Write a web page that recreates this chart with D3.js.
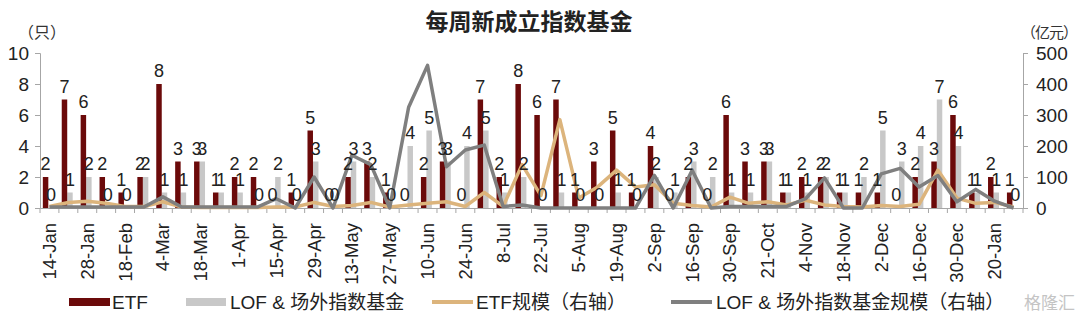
<!DOCTYPE html>
<html>
<head>
<meta charset="utf-8">
<script src="https://cdn.jsdelivr.net/npm/d3@7"></script>
<style>
  body { margin: 0; background: #fff; }
  text { font-family: "Liberation Sans", Arial, "Noto Sans CJK SC", sans-serif; }
  .cjk { font-family: "Liberation Sans", "Noto Sans CJK SC", sans-serif; }
</style>
</head>
<body>
<div id="chart"></div>
<script>
// weekly categories (labels shown every other week)
var weeks = ['14-Jan','21-Jan','28-Jan','11-Feb','18-Feb','25-Feb','4-Mar','11-Mar','18-Mar','25-Mar',
  '1-Apr','8-Apr','15-Apr','22-Apr','29-Apr','6-May','13-May','20-May','27-May','3-Jun',
  '10-Jun','17-Jun','24-Jun','1-Jul','8-Jul','15-Jul','22-Jul','29-Jul','5-Aug','12-Aug',
  '19-Aug','26-Aug','2-Sep','9-Sep','16-Sep','23-Sep','30-Sep','14-Oct','21-Oct','28-Oct',
  '4-Nov','11-Nov','18-Nov','25-Nov','2-Dec','9-Dec','16-Dec','23-Dec','30-Dec','13-Jan',
  '20-Jan','27-Jan'];

var etfCount = [2,7,6,2,1,2,8,3,3,1,2,2,0,1,5,0,2,3,1,0,2,3,0,7,2,8,6,7,1,3,5,1,4,0,2,0,6,3,3,1,2,2,1,1,1,0,2,3,6,1,2,1];
var lofCount = [0,1,2,0,0,2,1,1,3,1,1,0,2,0,3,0,3,2,0,4,5,3,4,5,1,2,0,1,0,0,1,0,2,1,3,2,1,1,3,1,1,2,1,2,5,3,4,7,4,1,1,0];

// scale, 亿元 (right axis)
var etfSize = [5,18,22,15,5,5,20,3,2,2,2,2,3,3,18,5,8,18,3,10,15,20,5,50,5,140,40,285,32,68,122,68,75,15,8,3,35,15,20,10,25,10,5,3,8,5,12,122,32,15,18,3];
var lofSize = [3,3,3,3,3,3,36,3,3,3,3,3,30,0,100,0,170,140,0,325,460,133,187,203,5,10,0,0,0,0,0,0,105,0,122,0,5,5,5,5,30,97,0,0,110,128,68,105,20,60,22,0];

var leftTicks = [0,2,4,6,8,10];
var rightTicks = [0,100,200,300,400,500];

var width = 1080,
    height = 318;

var red = '#6b0a0a',
    lightGray = '#c8c8c8',
    tan = '#dcb47c',
    darkGray = '#7f7f7f',
    axisColor = '#a6a6a6';

var svg = d3.select('#chart').append('svg')
    .attr('width', width)
    .attr('height', height);

var x = d3.scaleBand()
    .domain(weeks)
    .range([40, 1023])
    .padding(0);

var yL = d3.scaleLinear().domain([0, 10]).range([208, 53]);
var yR = d3.scaleLinear().domain([0, 500]).range([208, 53]);

var bw = x.bandwidth();

/* title */
svg.append('text')
    .attr('class', 'cjk')
    .attr('x', 529)
    .attr('y', 30)
    .attr('text-anchor', 'middle')
    .attr('font-size', 23)
    .attr('font-weight', 'bold')
    .attr('fill', '#222')
    .text('每周新成立指数基金');

svg.append('text')
    .attr('class', 'cjk')
    .attr('x', 18).attr('y', 38)
    .attr('font-size', 16).attr('fill', '#333')
    .text('（只）');

svg.append('text')
    .attr('class', 'cjk')
    .attr('x', 1077).attr('y', 38)
    .attr('text-anchor', 'end')
    .attr('font-size', 15).attr('fill', '#333')
    .attr('letter-spacing', -1)
    .text('（亿元）');

/* left axis */
var leftAxis = svg.append('g')
    .attr('transform', 'translate(40,0)')
    .call(d3.axisLeft(yL).tickValues(leftTicks).tickSize(5).tickPadding(6));

/* right axis */
var rightAxis = svg.append('g')
    .attr('transform', 'translate(1023,0)')
    .call(d3.axisRight(yR).tickValues(rightTicks).tickSize(5).tickPadding(8));

[leftAxis, rightAxis].forEach(function (g) {
    g.select('.domain').attr('stroke', axisColor);
    g.selectAll('.tick line').attr('stroke', axisColor);
    g.selectAll('.tick text')
        .attr('font-size', 19)
        .attr('fill', '#222')
        .attr('font-family', '"Liberation Sans", Arial, sans-serif');
});

/* bottom axis: ticks between categories, labels every second week */
var bottomAxis = svg.append('g')
    .attr('transform', 'translate(0,208)')
    .call(d3.axisBottom(x).tickSize(0).tickPadding(0)
        .tickFormat(function (d, i) { return i % 2 === 0 ? d : ''; }));

bottomAxis.select('.domain').attr('stroke', axisColor);
bottomAxis.selectAll('.tick text')
    .attr('font-size', 18.5)
    .attr('fill', '#222')
    .attr('font-family', '"Liberation Sans", Arial, sans-serif')
    .attr('text-anchor', 'end')
    .attr('transform', 'rotate(-90)')
    .attr('x', -15)
    .attr('y', 0)
    .attr('dy', '0.35em');

bottomAxis.selectAll('.sep')
    .data(d3.range(weeks.length + 1))
    .enter().append('line')
    .attr('class', 'sep')
    .attr('x1', function (i) { return 40 + i * bw; })
    .attr('x2', function (i) { return 40 + i * bw; })
    .attr('y1', 0)
    .attr('y2', 5)
    .attr('stroke', axisColor);

/* bars */
var etfX = function (i) { return x(weeks[i]) + bw * 0.15; };
var lofX = function (i) { return x(weeks[i]) + bw * 0.44; };
var barW = bw * 0.29;

svg.append('g').selectAll('rect')
    .data(lofCount)
    .enter().append('rect')
    .attr('x', function (d, i) { return lofX(i); })
    .attr('y', function (d) { return yL(d); })
    .attr('width', barW)
    .attr('height', function (d) { return 208 - yL(d); })
    .attr('fill', lightGray);

svg.append('g').selectAll('rect')
    .data(etfCount)
    .enter().append('rect')
    .attr('x', function (d, i) { return etfX(i); })
    .attr('y', function (d) { return yL(d); })
    .attr('width', barW)
    .attr('height', function (d) { return 208 - yL(d); })
    .attr('fill', red);

/* lines on right axis */
var line = d3.line()
    .x(function (d, i) { return x(weeks[i]) + bw / 2; })
    .y(function (d) { return yR(d); });

svg.append('path')
    .datum(etfSize)
    .attr('d', line)
    .attr('fill', 'none')
    .attr('stroke', tan)
    .attr('stroke-width', 3.5)
    .attr('stroke-linejoin', 'round');

svg.append('path')
    .datum(lofSize)
    .attr('d', line)
    .attr('fill', 'none')
    .attr('stroke', darkGray)
    .attr('stroke-width', 3.5)
    .attr('stroke-linejoin', 'round');

/* data labels */
svg.append('g').selectAll('text')
    .data(etfCount)
    .enter().append('text')
    .attr('x', function (d, i) { return etfX(i) + barW / 2; })
    .attr('y', function (d) { return yL(d) - 7; })
    .attr('text-anchor', 'middle')
    .attr('font-size', 18)
    .attr('fill', '#222')
    .text(function (d) { return d; });

svg.append('g').selectAll('text')
    .data(lofCount)
    .enter().append('text')
    .attr('x', function (d, i) { return lofX(i) + barW / 2; })
    .attr('y', function (d) { return yL(d) - 7; })
    .attr('text-anchor', 'middle')
    .attr('font-size', 18)
    .attr('fill', '#222')
    .text(function (d) { return d; });

/* legend */
var legend = svg.append('g').attr('class', 'cjk');
var legY = 302;

legend.append('rect').attr('x', 69).attr('y', legY - 4).attr('width', 41).attr('height', 8).attr('fill', red);
legend.append('text').attr('x', 112).attr('y', legY + 7).attr('font-size', 19).attr('fill', '#222').text('ETF');

legend.append('rect').attr('x', 186).attr('y', legY - 4).attr('width', 40).attr('height', 8).attr('fill', lightGray);
legend.append('text').attr('x', 230).attr('y', legY + 7).attr('font-size', 19).attr('fill', '#222').text('LOF & 场外指数基金');

legend.append('line').attr('x1', 432).attr('x2', 473).attr('y1', legY).attr('y2', legY).attr('stroke', tan).attr('stroke-width', 4);
legend.append('text').attr('x', 476).attr('y', legY + 7).attr('font-size', 19).attr('fill', '#222').text('ETF规模（右轴）');

legend.append('line').attr('x1', 671).attr('x2', 712).attr('y1', legY).attr('y2', legY).attr('stroke', darkGray).attr('stroke-width', 4);
legend.append('text').attr('x', 716).attr('y', legY + 7).attr('font-size', 19).attr('fill', '#222').text('LOF & 场外指数基金规模（右轴）');

// faint watermark in the corner
svg.append('text')
    .attr('class', 'cjk')
    .attr('x', 1075).attr('y', legY + 7)
    .attr('text-anchor', 'end')
    .attr('font-size', 17)
    .attr('fill', '#c4c4c4')
    .text('格隆汇');
</script>
</body>
</html>
